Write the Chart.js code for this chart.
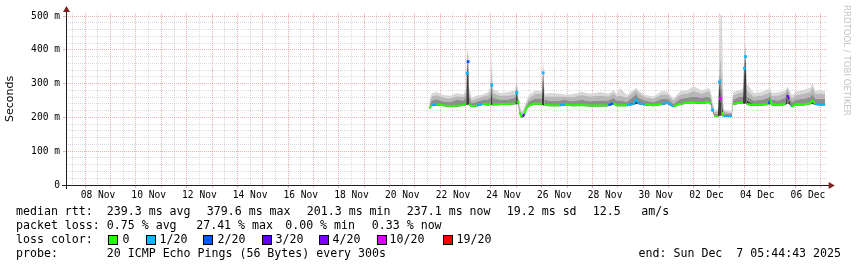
<!DOCTYPE html>
<html><head><meta charset="utf-8">
<script src="https://cdn.jsdelivr.net/npm/chart.js@4.4.0/dist/chart.umd.min.js"></script>
<style>
html,body{margin:0;padding:0;background:#fff;}
#wrap{position:relative;width:857px;height:267px;overflow:hidden;background:#fff;}
#c{position:absolute;left:0;top:0;}
.t{position:absolute;font-family:"DejaVu Sans Mono",monospace;font-size:11.6px;line-height:14px;color:#000;white-space:pre;}
.sw{position:absolute;width:8px;height:8px;border:1px solid #000;}
#wm{position:absolute;font-family:"DejaVu Sans",sans-serif;font-size:8.6px;line-height:10px;color:#c4c4c4;white-space:pre;transform-origin:0 0;transform:rotate(90deg);left:852px;top:5px;}
</style></head>
<body>
<div id="wrap">
<canvas id="c" width="857" height="267"></canvas>
<div id="wm">RRDTOOL / TOBI OETIKER</div>
<div id="legend"></div>
</div>
<script>
// ---- data ----
const times = ['11-21 13:44','11-21 15:56','11-21 20:40','11-22 02:59','11-22 09:17','11-22 15:36','11-22 21:55',
'11-23 00:26','11-23 01:23','11-23 02:20','11-23 03:17','11-23 05:49','11-23 10:33','11-23 16:14','11-23 21:36','11-23 23:48',
'11-24 00:45','11-24 01:42','11-24 08:38','11-24 16:31','11-24 22:51',
'11-25 00:25','11-25 01:41','11-25 02:57','11-25 04:31','11-25 06:06','11-25 07:41','11-25 09:15','11-25 11:28','11-25 17:47',
'11-26 00:06','11-26 01:21','11-26 02:37','11-26 09:33','11-26 17:27','11-26 22:11',
'11-27 04:29','11-27 13:58','11-27 21:51','11-28 07:19','11-28 15:12','11-28 19:56','11-28 23:05',
'11-29 02:15','11-29 08:34','11-29 14:53','11-29 17:24','11-29 19:37',
'11-30 01:55','11-30 09:49','11-30 17:41','11-30 23:04',
'12-01 04:45','12-01 11:03','12-01 17:21','12-01 23:40',
'12-02 07:33','12-02 13:52','12-02 16:05','12-02 17:40','12-02 19:34','12-02 22:42',
'12-03 00:17','12-03 01:14','12-03 02:30','12-03 04:05','12-03 10:24','12-03 11:59','12-03 12:56','12-03 18:17','12-03 22:23','12-03 23:58',
'12-04 00:54','12-04 02:10','12-04 08:30','12-04 16:23','12-04 22:42',
'12-05 00:16','12-05 01:51','12-05 08:10','12-05 14:28','12-05 16:22','12-05 17:57','12-05 19:51','12-05 21:07','12-05 23:57',
'12-06 07:48','12-06 14:07','12-06 16:20','12-06 18:52','12-06 23:36','12-07 04:19'];
const median = [227,236,238,236,234,235,237, 240,330,365,240,233,235,240,238,240, 296,238,240,240,242,
 273,245,215,203,202,210,225,235,241, 240,332,237,236,236,238, 236,237,235,235,236,242,236,
 236,236,240,253,242, 238,236,240,243, 233,240,244,245, 243,246,240,222,204,204,
 305,256,215,204,204,205,240,243,244,345, 380,240,237,238,240, 253,238,237,240,266,255,236,232,238,
 238,242,250,240,238,238];
const lossCount = [0,0,1,0,0,0,0, 0,1,2,0,0,0,1,0,0, 1,0,0,0,0,
 1,0,0,0,0,3,0,0,0, 0,1,0,0,0,1, 0,0,0,0,0,2,0,
 0,0,1,1,1, 1,0,0,1, 1,0,0,0, 0,0,0,1,0,0,
 1,10,10,0,1,1,0,0,0,1, 1,0,0,0,0, 2,0,0,0,4,3,0,1,0,
 0,0,0,0,1,1];
const smokeLo = [224,233,235,233,231,232,234, 237,236,238,236,230,232,237,235,237, 236,235,237,237,239,
 238,240,212,200,199,206,222,232,238, 237,236,234,233,233,235, 233,234,232,232,233,238,233,
 233,233,237,240,239, 235,233,237,240, 230,237,241,242, 240,243,237,218,201,201,
 205,205,205,201,201,202,237,240,241,240, 242,237,234,235,237, 240,235,234,237,240,240,233,229,235,
 235,239,240,237,235,235];
const smokeCore = [229,238,240,238,236,237,239, 242,340,368,242,235,237,242,240,242, 300,240,242,242,244,
 280,247,217,205,204,214,227,237,243, 242,335,239,238,238,240, 238,239,237,237,238,246,238,
 238,238,244,258,246, 240,238,242,245, 235,242,246,247, 245,248,242,224,206,206,
 310,280,240,206,206,207,242,245,246,350, 383,250,239,240,242, 258,240,239,242,270,258,238,234,240,
 240,244,255,242,240,240];
const smokeMid = [235,250,254,247,245,252,250, 262,360,380,262,242,246,252,254,262, 320,258,252,253,258,
 292,256,226,210,208,220,232,246,256, 256,348,252,248,250,252, 248,252,248,250,250,258,250,
 250,246,262,270,258, 250,245,255,256, 240,255,258,262, 258,262,256,230,210,212,
 320,320,280,212,210,212,252,260,262,370, 395,262,250,252,258, 266,252,250,258,278,266,250,245,252,
 255,260,270,255,255,255];
const smokeHi = [244,262,266,258,256,263,261, 275,385,392,276,250,256,262,266,280, 350,272,264,265,268,
 305,262,234,215,214,228,238,255,270, 270,362,262,262,262,262, 260,266,262,265,262,272,262,
 265,258,275,282,272, 260,255,268,268, 250,268,270,278, 270,278,268,240,215,218,
 345,380,320,218,214,216,265,272,275,400, 410,280,262,265,272, 278,264,265,272,286,278,262,256,265,
 270,275,290,270,270,268];
const smokeMax = [252,272,275,266,264,272,268, 285,398,400,290,258,265,268,275,300, 400,285,272,275,280,
 320,268,240,220,218,235,245,265,280, 278,372,270,272,270,268, 268,276,270,275,270,280,270,
 286,266,282,288,280, 266,262,278,276, 256,278,280,292, 280,288,278,248,220,224,
 400,503,503,225,218,220,275,280,285,421, 421,300,272,275,285, 287,272,275,280,291,285,270,265,275,
 282,288,301,280,280,278];
const lossSteps  = [0,1,2,3,4,10,19];
const lossLabels = ['0','1/20','2/20','3/20','4/20','10/20','19/20'];
const lossColors = ['#26ff00','#00b8ff','#0059ff','#5e00ff','#7e00ff','#dd00ff','#ff0000'];
const monthNames = ['Nov','Dec'];
const yMajorTicks = [0,100,200,300,400,500];
const endTime = '12-07 05:44:43';

// ---- helpers ----
function toDay(s){
  const [md,hms]=s.split(' ');
  const [mo,dd]=md.split('-').map(Number);
  const p=hms.split(':').map(Number);
  return (mo===11?dd:30+dd)+p[0]/24+p[1]/1440+(p[2]||0)/86400;
}
const X_MAX = toDay(endTime);
const X_MIN = X_MAX - 30;
const pts = arr => times.map((t,i)=>({x:toDay(t), y:arr[i]}));
function lossColor(n){ let c=lossColors[0]; lossSteps.forEach((s,i)=>{ if(n>=s) c=lossColors[i]; }); return c; }
// like rrdtool: no vertical connector between steps of a different loss colour on a jump
function segVisible(a,b){
  if(a<0||b>=median.length) return false;
  const jump=Math.abs(median[b]-median[a]);
  const same=lossColor(lossCount[a])===lossColor(lossCount[b]);
  return !((!same && jump>15) || jump>25);
}

const MGRID='rgba(222,79,79,0.45)', GRID='rgba(143,143,143,0.32)';
const band = (data,color)=>({data:pts(data), fill:'-1', backgroundColor:color, borderColor:'rgba(0,0,0,0)', borderWidth:0, pointRadius:0, tension:0, order:1});

const axesPlugin = {
  id:'rrdAxes',
  afterDraw(chart){
    const {ctx, chartArea:a} = chart;
    ctx.save();
    ctx.strokeStyle='#1f1f1f'; ctx.lineWidth=1;
    ctx.beginPath();
    ctx.moveTo(a.left-4, a.bottom+0.5); ctx.lineTo(a.right+3, a.bottom+0.5);
    ctx.moveTo(a.left+0.5, a.bottom+4); ctx.lineTo(a.left+0.5, a.top-1);
    ctx.stroke();
    ctx.fillStyle='#801f1f';
    ctx.beginPath();
    ctx.moveTo(a.right+2, a.bottom-3); ctx.lineTo(a.right+8, a.bottom+0.5); ctx.lineTo(a.right+2, a.bottom+4); ctx.closePath(); ctx.fill();
    ctx.beginPath();
    ctx.moveTo(a.left-3, a.top-1); ctx.lineTo(a.left+0.5, a.top-7); ctx.lineTo(a.left+4, a.top-1); ctx.closePath(); ctx.fill();
    ctx.restore();
  }
};

new Chart(document.getElementById('c'), {
  type:'line',
  data:{datasets:[
    {data:pts(smokeLo), fill:false, borderColor:'rgba(0,0,0,0)', borderWidth:0, pointRadius:0, tension:0, order:1},
    {data:pts(median), fill:'-1', backgroundColor:'#3c3c3c', borderColor:lossColors[0], borderWidth:2, tension:0, order:0,
      pointStyle:'rect', pointBorderWidth:0,
      pointRadius: c=>{ const i=c.dataIndex; return (!segVisible(i-1,i) && !segVisible(i,i+1)) ? 2 : 0; },
      pointBackgroundColor: c=>lossColor(lossCount[c.dataIndex]),
      segment:{borderColor: c=> segVisible(c.p0DataIndex,c.p1DataIndex) ? lossColor(lossCount[c.p1DataIndex]) : 'rgba(0,0,0,0)'}},
    band(smokeCore,'#3c3c3c'),
    band(smokeMid,'#8e8e8e'),
    band(smokeHi,'#b8b8b8'),
    band(smokeMax,'#d8d8d8')
  ]},
  options:{
    responsive:false, animation:false, devicePixelRatio:1,
    layout:{padding:{left:0, top:13, right:30.3, bottom:0}},
    plugins:{legend:{display:false}, tooltip:{enabled:false}},
    scales:{
      x:{type:'linear', min:X_MIN, max:X_MAX,
        afterBuildTicks: s=>{ const t=[]; for(let v=Math.ceil(X_MIN*2)/2; v<=X_MAX; v+=0.5) t.push({value:v}); s.ticks=t; },
        afterFit: s=>{ s.height=82; },
        ticks:{autoSkip:false, maxRotation:0, minRotation:0, padding:2, color:'#000',
          font:{family:'DejaVu Sans Mono', size:9.6},
          callback: v=>{ const d=Math.floor(v); if(Math.abs(v-d-0.5)>1e-6 || d%2) return '';
            const dm = d<=30 ? d : d-30; return String(dm).padStart(2,'0')+' '+monthNames[d<=30?0:1]; }},
        grid:{color: c=>Number.isInteger(c.tick.value)?MGRID:GRID, lineWidth:1, drawTicks:true, tickLength:3,
          tickColor: c=>Number.isInteger(c.tick.value)?MGRID:'rgba(0,0,0,0)'},
        border:{display:false, dash:[1,1]}
      },
      y:{min:0, max:509,
        afterBuildTicks: s=>{ const t=[]; for(let v=0; v<=500; v+=20) t.push({value:v}); s.ticks=t; },
        afterFit: s=>{ s.width=66; },
        ticks:{autoSkip:false, padding:3, color:'#000', font:{family:'DejaVu Sans Mono', size:9.6},
          callback: v=> yMajorTicks.includes(v) ? (v===0?'0':v+' m') : ''},
        grid:{color: c=>c.tick.value%100===0?MGRID:GRID, lineWidth:1, drawTicks:true, tickLength:3,
          tickColor: c=>c.tick.value%100===0?MGRID:'rgba(0,0,0,0)'},
        border:{display:false, dash:[1,1]},
        title:{display:true, text:'Seconds', color:'#000', font:{family:'DejaVu Sans', size:11}, padding:{top:4,bottom:0}}
      }
    }
  },
  plugins:[axesPlugin]
});

// ---- legend text (HTML) ----
const L = document.getElementById('legend');
function txt(s,x,y,right){ const d=document.createElement('div'); d.className='t'; d.textContent=s; d.style.top=y+'px';
  if(right!==undefined) d.style.right=right+'px'; else d.style.left=x+'px'; L.appendChild(d); }
const rowTop=[204,218,232,246];
const row1 = [['median rtt:',16],['239.3 ms avg',106.8],['379.6 ms max',206.8],['201.3 ms min',306.8],['237.1 ms now',406.8],['19.2 ms sd',506.8],['12.5',592.8],['am/s',641.2]];
const row2 = [['packet loss:',16],['0.75 % avg',106.8],['27.41 % max',196.2],['0.00 % min',285.2],['0.33 % now',371.8]];
row1.forEach(([s,x])=>txt(s,x,rowTop[0]));
row2.forEach(([s,x])=>txt(s,x,rowTop[1]));
txt('loss color:',16,rowTop[2]);
const swX=[108,146,203,261.5,319,376.5,443], labX=[122.5,159.5,217.5,275.5,332.5,389.5,456.5];
lossLabels.forEach((s,i)=>{ const b=document.createElement('div'); b.className='sw'; b.style.left=swX[i]+'px'; b.style.top='235px'; b.style.background=lossColors[i]; L.appendChild(b); txt(s,labX[i],rowTop[2]); });
txt('probe:',16,rowTop[3]);
txt('20 ICMP Echo Pings (56 Bytes) every 300s',106.8,rowTop[3]);
txt('end: Sun Dec  7 05:44:43 2025',0,rowTop[3],16);
</script>
</body></html>
